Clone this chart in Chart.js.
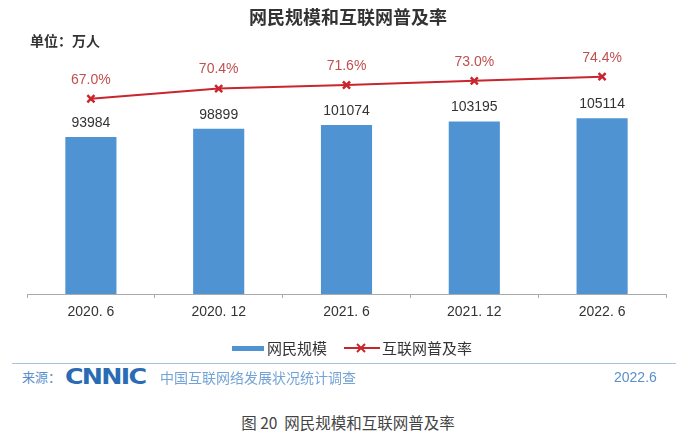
<!DOCTYPE html>
<html>
<head>
<meta charset="utf-8">
<script src="https://cdn.jsdelivr.net/npm/chart.js@4/dist/chart.umd.min.js"></script>
<style>
    html, body { margin: 0; padding: 0; background: #fff; }
    body { width: 696px; height: 440px; position: relative; overflow: hidden;
           font-family: "Noto Sans CJK SC", "Noto Sans", sans-serif; color: #333; }
    .abs { position: absolute; white-space: nowrap; }
    #chart-box { position: absolute; left: 0; top: 0; width: 696px; height: 340px; }
    #title { left: 0; width: 696px; top: 4px; text-align: center; font-size: 18px; font-weight: bold; color: #333; line-height: 24px; }
    #unit { left: 30px; top: 30px; font-size: 14px; font-weight: bold; color: #333; line-height: 20px; }
    .legend-text { font-size: 15px; color: #333; line-height: 20px; top: 338px; }
    #sep { left: 12px; top: 363px; width: 664px; height: 0; border-top: 1.5px solid #a9c2e0; }
    #src-label { left: 22px; top: 368px; font-size: 13px; color: #5b8fca; line-height: 18px; }
    #logo { left: 65px; top: 364px; font-family: "DejaVu Sans", sans-serif; font-size: 22px; font-weight: 900;
            color: #2a6cb4; letter-spacing: -1.5px; line-height: 26px; transform: scaleX(1.15); transform-origin: left center; }
    #src-name { left: 160px; top: 368px; font-size: 14px; color: #74a4d6; line-height: 18px; }
    #src-date { left: 614px; top: 368px; font-size: 14px; color: #5b8fca; line-height: 18px; font-family: "Liberation Sans", sans-serif; }
    #caption { left: 0; width: 696px; top: 411px; text-align: center; font-size: 15.5px; color: #444; line-height: 22px; }
</style>
</head>
<body>
<div id="chart-box"><canvas id="chart"></canvas></div>
<div id="title" class="abs">网民规模和互联网普及率</div>
<div id="unit" class="abs">单位：万人</div>

<div class="abs" style="left:232px; top:346px; width:32px; height:5px; background:#4f93d3;"></div>
<div class="abs legend-text" style="left:267px;">网民规模</div>
<canvas id="legend-line" class="abs" width="38" height="14" style="left:343px; top:341px;"></canvas>
<div class="abs legend-text" style="left:382px;">互联网普及率</div>

<div id="sep" class="abs"></div>
<div id="src-label" class="abs">来源：</div>
<div id="logo" class="abs">CNNIC</div>
<div id="src-name" class="abs">中国互联网络发展状况统计调查</div>
<div id="src-date" class="abs">2022.6</div>
<div id="caption" class="abs">图 20&nbsp; 网民规模和互联网普及率</div>

<script>
    // data
    const periods = ['2020. 6', '2020. 12', '2021. 6', '2021. 12', '2022. 6'];
    const netizens = [93984, 98899, 101074, 103195, 105114]; // 万人
    const penetration = [67.0, 70.4, 71.6, 73.0, 74.4]; // %

    const barColor = '#4f93d3';
    const lineColor = '#c9252c';

    // small legend sample for the line series
    const lg = document.getElementById('legend-line').getContext('2d');
    lg.strokeStyle = lineColor;
    lg.lineWidth = 2;
    lg.beginPath(); lg.moveTo(1, 7); lg.lineTo(37, 7); lg.stroke();
    lg.beginPath();
    lg.moveTo(14, 3); lg.lineTo(22, 11);
    lg.moveTo(22, 3); lg.lineTo(14, 11);
    lg.stroke();

    // value labels over bars and points
    const valueLabels = {
        id: 'valueLabels',
        afterDatasetsDraw(chart) {
            const ctx = chart.ctx;
            ctx.save();
            ctx.textAlign = 'center';
            ctx.textBaseline = 'middle';
            ctx.font = '14px "Liberation Sans", Arial, sans-serif';
            chart.data.datasets.forEach((ds, i) => {
                const meta = chart.getDatasetMeta(i);
                meta.data.forEach((el, j) => {
                    if (ds.type === 'bar') {
                        ctx.fillStyle = '#333';
                        ctx.fillText(String(ds.data[j]), el.x, el.y - 14);
                    } else {
                        ctx.fillStyle = '#c0504d';
                        ctx.fillText(ds.data[j].toFixed(1) + '%', el.x, el.y - 19);
                    }
                });
            });
            ctx.restore();
        }
    };

    new Chart(document.getElementById('chart'), {
        data: {
            labels: periods,
            datasets: [
                {
                    type: 'line',
                    label: '互联网普及率',
                    data: penetration,
                    yAxisID: 'y1',
                    borderColor: lineColor,
                    borderWidth: 2,
                    tension: 0,
                    pointStyle: 'crossRot',
                    pointRadius: 5,
                    pointBorderWidth: 2.5,
                    pointBorderColor: lineColor,
                    order: 0
                },
                {
                    type: 'bar',
                    label: '网民规模',
                    data: netizens,
                    yAxisID: 'y',
                    backgroundColor: barColor,
                    barPercentage: 0.4,
                    categoryPercentage: 1,
                    order: 1
                }
            ]
        },
        options: {
            responsive: true,
            maintainAspectRatio: false,
            animation: false,
            layout: { padding: { left: 27, right: 30, top: 60, bottom: 0 } },
            plugins: {
                legend: { display: false },
                tooltip: { enabled: false }
            },
            scales: {
                x: {
                    offset: true,
                    grid: { display: true, offset: true, drawOnChartArea: false, drawTicks: true, tickLength: 4, color: '#aaa' },
                    border: { display: true, color: '#aaa', width: 1 },
                    ticks: { color: '#333', padding: 6, font: { size: 14, family: '"Liberation Sans", Arial, sans-serif' } },
                    afterFit: (scale) => { scale.height = 46; }
                },
                y: { display: false, min: 0, max: 140000 },
                y1: { display: false, min: 1.5, max: 80 }
            }
        },
        plugins: [valueLabels]
    });
</script>
</body>
</html>
